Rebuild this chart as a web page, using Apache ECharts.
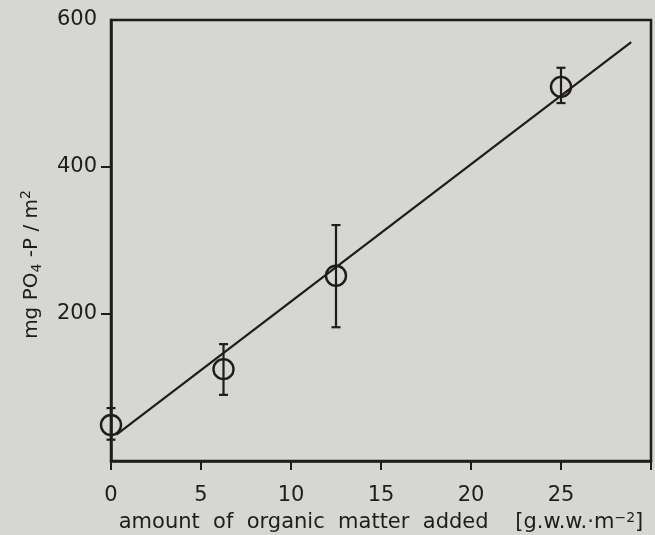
<!DOCTYPE html>
<html>
<head>
<meta charset="utf-8">
<script src="https://cdn.jsdelivr.net/npm/echarts@6/dist/echarts.min.js"></script>
<style>
  html, body { margin: 0; padding: 0; background: #d6d6d3; }
  #chart { width: 655px; height: 535px; }
</style>
</head>
<body>
<div id="chart"></div>
<script>
// organic matter added [g.w.w. m-2]
const doses = [0, 6.25, 12.5, 25];
// mg PO4-P / m2, mean and error bar ends
const means = [49, 125, 252, 509];
const errLow = [29, 90, 182, 487];
const errHigh = [72, 159, 321, 535];
// fitted line ends
const fitX = [0.3, 28.9];
const fitY = [36, 570];
// tick positions
const xTicks = [0, 5, 10, 15, 20, 25];
const yTicks = [200, 400, 600];

const ink = "#201c1c";
const font = "DejaVu Sans";

let chart = echarts.init(document.getElementById("chart"));

let option = {
  backgroundColor: "#d6d6d3",
  animation: false,
  grid: {
    left: 111, right: 4, top: 20, bottom: 74,
    outerBoundsMode: "none",
    show: true, borderColor: ink, borderWidth: 2.5,
    backgroundColor: "transparent"
  },
  xAxis: {
    type: "value", min: 0, max: 30, interval: 5,
    name: "amount  of  organic  matter  added    [g.w.w.·m{sup|−2}]",
    nameLocation: "middle", nameGap: 44,
    nameTextStyle: {
      color: ink, fontFamily: font, fontSize: 21,
      rich: { sup: { fontSize: 14, padding: [0, 0, 10, 0], color: ink, fontFamily: font } }
    },
    axisLine: { show: true, lineStyle: { color: ink, width: 2.5 } },
    axisTick: { show: true, inside: false, length: 9, lineStyle: { color: ink, width: 2 } },
    axisLabel: {
      margin: 24, color: ink, fontFamily: font, fontSize: 21,
      formatter: v => (v === 30 ? "" : v)
    },
    splitLine: { show: false }
  },
  yAxis: {
    type: "value", min: 0, max: 600, interval: 200,
    name: "mg PO{sub|4} -P / m{sup|2}",
    nameLocation: "middle", nameGap: 66, nameRotate: 90,
    nameTextStyle: {
      color: ink, fontFamily: font, fontSize: 20, padding: [0, 48, 0, 0],
      rich: {
        sub: { fontSize: 14, padding: [10, 0, 0, 0], color: ink, fontFamily: font },
        sup: { fontSize: 14, padding: [0, 0, 12, 0], color: ink, fontFamily: font }
      }
    },
    axisLine: { show: true, lineStyle: { color: ink, width: 2.5 } },
    axisTick: { show: true, inside: false, length: 10, customValues: yTicks.slice(0, 2), lineStyle: { color: ink, width: 2 } },
    axisLabel: {
      margin: 14, color: ink, fontFamily: font, fontSize: 21,
      customValues: yTicks
    },
    splitLine: { show: false }
  },
  series: [
    {
      name: "fit",
      type: "line",
      data: fitX.map((x, i) => [x, fitY[i]]),
      symbol: "none",
      lineStyle: { color: ink, width: 2.2 },
      z: 3
    },
    {
      name: "error",
      type: "custom",
      data: doses.map((x, i) => [x, errLow[i], errHigh[i]]),
      renderItem: function (params, api) {
        let lo = api.coord([api.value(0), api.value(1)]);
        let hi = api.coord([api.value(0), api.value(2)]);
        let w = 4.5;
        let style = { stroke: ink, lineWidth: 2.2 };
        return {
          type: "group",
          children: [
            { type: "line", shape: { x1: lo[0], y1: lo[1], x2: hi[0], y2: hi[1] }, style: style },
            { type: "line", shape: { x1: lo[0] - w, y1: lo[1], x2: lo[0] + w, y2: lo[1] }, style: style },
            { type: "line", shape: { x1: hi[0] - w, y1: hi[1], x2: hi[0] + w, y2: hi[1] }, style: style }
          ]
        };
      },
      z: 4
    },
    {
      name: "mean",
      type: "scatter",
      data: doses.map((x, i) => [x, means[i]]),
      symbol: "circle",
      symbolSize: 20,
      itemStyle: { color: "rgba(0,0,0,0)", borderColor: ink, borderWidth: 2.4, opacity: 1 },
      z: 5
    }
  ]
};

chart.setOption(option);
</script>
</body>
</html>
